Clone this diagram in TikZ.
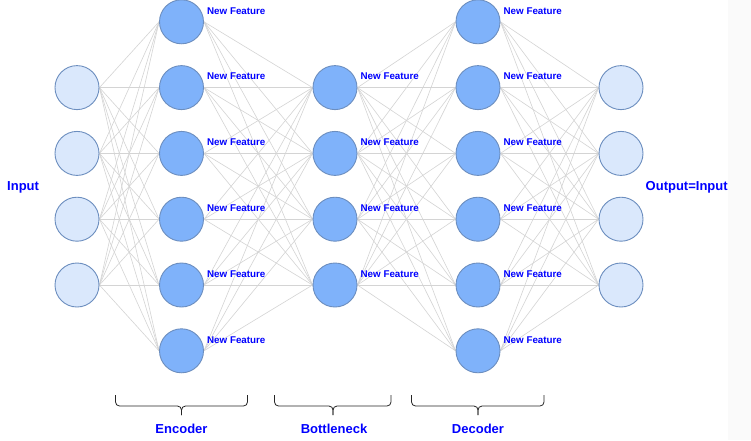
\documentclass[tikz,border=0pt]{standalone}
\usepackage{fontspec}
\setmainfont{Liberation Sans}
\usetikzlibrary{backgrounds}
\definecolor{lightfill}{HTML}{DAE8FC}
\definecolor{darkfill}{HTML}{7FB2FA}
\definecolor{nodestroke}{HTML}{6C8EBF}
\definecolor{edgegray}{HTML}{D4D4D4}
\definecolor{txtblue}{HTML}{0000FF}
\definecolor{stripgray}{HTML}{FAFAFA}
\tikzset{
  x=1pt, y=-1pt,
  neuron/.style={circle, draw=nodestroke, line width=0.9pt, minimum size=44pt, inner sep=0pt},
  inneuron/.style={neuron, fill=lightfill},
  hidneuron/.style={neuron, fill=darkfill},
  link/.style={draw=edgegray, line width=0.6pt},
  feat/.style={text=txtblue, font=\fontsize{9.8}{11}\selectfont\bfseries, inner sep=0pt, anchor=west},
  biglabel/.style={text=txtblue, font=\fontsize{13}{15}\selectfont\bfseries, inner sep=0pt},
  bracestyle/.style={draw=black!85, line width=0.8pt, rounded corners=4pt}
}
\begin{document}
\begin{tikzpicture}
\useasboundingbox (0,0) rectangle (751,440);

% layers
\foreach \k/\yy in {1/87.6,2/153.4,3/219.2,4/285}{
  \node[inneuron] (i\k) at (77,\yy) {};
  \node[inneuron] (o\k) at (621,\yy) {};
  \node[hidneuron] (b\k) at (335,\yy) {};
}
\foreach \k/\yy in {1/21.8,2/87.6,3/153.4,4/219.2,5/285,6/350.8}{
  \node[hidneuron] (e\k) at (181.5,\yy) {};
  \node[hidneuron] (d\k) at (478,\yy) {};
}

% connections (behind the nodes)
\begin{pgfonlayer}{background}
\fill[white] (0,0) rectangle (751,440);
\fill[stripgray] (728,0) rectangle (751,440);
\foreach \a in {1,...,4}{
  \foreach \b in {1,...,6}{
    \draw[link] (i\a.east) -- (e\b.west);
    \draw[link] (e\b.east) -- (b\a.west);
    \draw[link] (b\a.east) -- (d\b.west);
    \draw[link] (d\b.east) -- (o\a.west);
  }
}
\end{pgfonlayer}

% feature labels
\foreach \k in {1,...,6}{
  \node[feat] (fe\k) at ([xshift=3pt,yshift=11pt]e\k.east) {New Feature};
  \node[feat] (fd\k) at ([xshift=3pt,yshift=11pt]d\k.east) {New Feature};
}
\foreach \k in {1,...,4}{
  \node[feat] (fb\k) at ([xshift=3pt,yshift=11pt]b\k.east) {New Feature};
}

% side labels
\node[biglabel, anchor=west] (inlabel) at (7,187) {Input};
\node[biglabel, anchor=west] (outlabel) at (645.5,187) {Output=Input};

% braces
\coordinate (encL) at (115.5,395);
\coordinate (encR) at (247.5,395);
\coordinate (encT) at (181.5,415);
\coordinate (botL) at (274.5,395);
\coordinate (botR) at (391,395);
\coordinate (botT) at (333,415);
\coordinate (decL) at (411.5,395);
\coordinate (decR) at (544,395);
\coordinate (decT) at (478,415);
\foreach \n in {enc,bot,dec}{
  \draw[bracestyle] (\n L) -- (\n L |- 0,406) -- (\n T |- 0,406) -- (\n T);
  \draw[bracestyle] (\n R) -- (\n R |- 0,406) -- (\n T |- 0,406) -- (\n T);
}

\node[biglabel] (enclabel) at (181.5,428.5) {Encoder};
\node[biglabel] (botlabel) at (334,428.5) {Bottleneck};
\node[biglabel] (declabel) at (478,428.5) {Decoder};
\end{tikzpicture}
\end{document}
